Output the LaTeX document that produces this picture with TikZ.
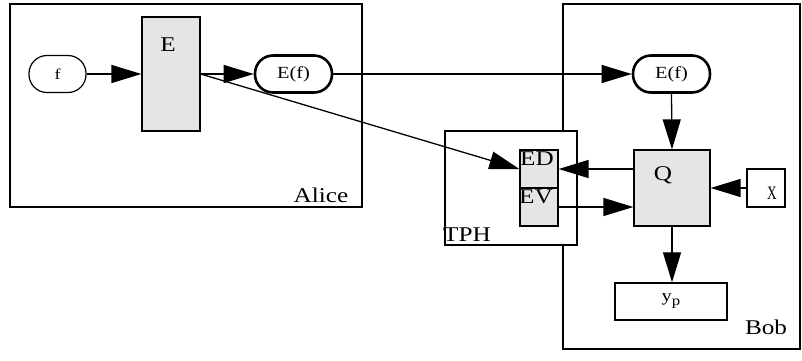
\documentclass[tikz,border=0pt]{standalone}
\usepackage{fontspec}
\setmainfont{Liberation Serif}
\newfontfamily\wfont[FakeStretch=1.2]{Liberation Serif}
\usetikzlibrary{arrows.meta}
\tikzset{
  big/.style={font=\wfont\fontsize{21}{23}\selectfont, inner sep=0pt},
  small/.style={font=\wfont\fontsize{17}{19}\selectfont, inner sep=0pt},
  frame/.style={draw, line width=2.8pt},
  greybox/.style={draw, fill=black!10, line width=1.2pt, inner sep=0pt},
  pill/.style={draw, rounded corners=18pt, inner sep=0pt, minimum width=77pt, minimum height=37pt},
  plainbox/.style={draw, line width=1.4pt, inner sep=0pt},
  conn/.style={line width=1.3pt, -{Triangle[length=30pt,width=18pt]}}
}
\begin{document}
\begin{tikzpicture}[x=1pt,y=-1pt]
\useasboundingbox (0,0) rectangle (802,360);
% frames
\draw[frame] (10,4) rectangle (362,207);
\draw[frame] (563,4) rectangle (800,349);
\draw[frame, fill=white] (445,131) rectangle (577,245);
% labels of frames
\node[big] (alice) at (321,195) {Alice};
\node[big] (bob) at (766,327) {Bob};
\node[big] (tph) at (467,235) {TPH};
% Alice nodes
\node[pill, small, font=\wfont\fontsize{15}{17}\selectfont, line width=1.2pt, minimum width=57pt] (f) at (57.5,74) {f};
\node[greybox, minimum width=58pt, minimum height=114pt] (E) at (171,74) {};
\node[big] (Elab) at (168,45) {E};
\node[pill, small, line width=2.6pt] (Efa) at (293.5,74) {E(f)};
% TPH nodes
\node[greybox, minimum width=38pt, minimum height=38pt] (ED) at (539,169) {};
\node[greybox, minimum width=38pt, minimum height=38pt] (EV) at (539,207) {};
\node[big] (EDlab) at (537,159) {ED};
\node[big] (EVlab) at (536,197) {EV};
% Bob nodes
\node[pill, small, line width=2.6pt] (Efb) at (671.5,74) {E(f)};
\node[greybox, minimum width=76pt, minimum height=76pt] (Q) at (672,188) {};
\node[big] (Qlab) at (663,175) {Q};
\node[plainbox, minimum width=38pt, minimum height=38pt] (X) at (766,188) {};
\node[inner sep=0pt, font=\fontsize{19}{21}\selectfont] (Xlab) at (772,193) {\scalebox{0.7}[1]{X}};
\node[plainbox, minimum width=112pt, minimum height=37pt, small] (yp) at (671,301.5) {y\raisebox{-4pt}{\fontsize{14}{15}\selectfont p}};
% connectors
\draw[conn] (f.east) -- (E.west);
\draw[conn] (E.east) -- (Efa.west);
\draw[conn] (Efa.east) -- (Efb.west);
\draw[conn] (E.east) -- (ED.west);
\draw[conn] (Efb.south) -- (Q.north);
\draw[conn] (Q.west |- ED.east) -- (ED.east);
\draw[conn] (EV.east) -- (Q.west |- EV.east);
\draw[conn] (X.west) -- (Q.east);
\draw[conn] (Q.south) -- (Q.south |- yp.north);
\end{tikzpicture}
\end{document}
